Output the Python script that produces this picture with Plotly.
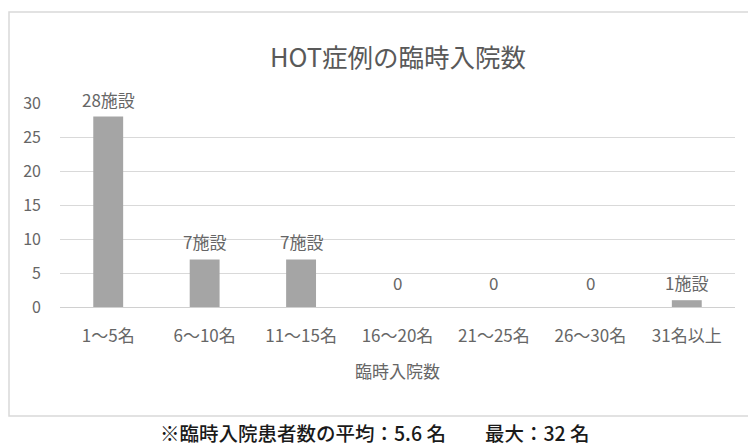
import plotly.graph_objects as go

# Temporary admissions per facility (HOT cases)
categories = ["1～5名", "6～10名", "11～15名", "16～20名", "21～25名", "26～30名", "31名以上"]
facilities = [28, 7, 7, 0, 0, 0, 1]
y_ticks = [0, 5, 10, 15, 20, 25, 30]

title_text = "HOT症例の臨時入院数"
x_title = "臨時入院数"
caption = "※臨時入院患者数の平均：5.6 名　　最大：32 名"

FONT = "Noto Sans CJK JP"
GREY_TEXT = "#595959"
TICK_TEXT = "#666666"
W, H = 748, 447
L, R, T, B = 60, 13, 103, 140

fig = go.Figure()
fig.add_trace(go.Bar(
    x=categories,
    y=facilities,
    marker=dict(color="#a5a5a5", line=dict(width=0)),
    width=0.31,
    hoverinfo="skip",
))

# value labels above each bar
for cat, v in zip(categories, facilities):
    fig.add_annotation(
        x=cat, y=v, xref="x", yref="y",
        text=f"{v}施設" if v > 0 else "0",
        showarrow=False, yanchor="bottom", yshift=3 if v > 0 else 10,
        font=dict(family=FONT, size=17, color=TICK_TEXT),
    )

plot_h = H - T - B
plot_w = W - L - R

def py(pixel_y):
    return (H - B - pixel_y) / plot_h

def px(pixel_x):
    return (pixel_x - L) / plot_w

# outer chart frame
fig.add_shape(
    type="rect", xref="paper", yref="paper",
    x0=px(9), x1=px(760), y0=py(416), y1=py(12),
    line=dict(color="#d9d9d9", width=1.5), fillcolor="rgba(0,0,0,0)", layer="below",
)

fig.add_annotation(
    x=0.5, y=py(56), xref="paper", yref="paper", text=title_text,
    showarrow=False, yanchor="middle",
    font=dict(family=FONT, size=25.5, color=GREY_TEXT),
)
fig.add_annotation(
    x=0.5, y=py(370), xref="paper", yref="paper", text=x_title,
    showarrow=False, yanchor="middle",
    font=dict(family=FONT, size=17, color=TICK_TEXT),
)
fig.add_annotation(
    x=px(375), y=py(432), xref="paper", yref="paper", text=caption,
    showarrow=False, yanchor="middle",
    font=dict(family=FONT, size=19.5, color="#1a1a1a", weight=500),
)

fig.update_layout(
    width=W, height=H,
    margin=dict(l=L, r=R, t=T, b=B),
    paper_bgcolor="white", plot_bgcolor="white",
    showlegend=False,
    font=dict(family=FONT, color=GREY_TEXT),
    xaxis=dict(
        showgrid=False, showline=False, zeroline=False, ticks="",
        tickfont=dict(family=FONT, size=17, color=TICK_TEXT),
        ticklabelstandoff=17, fixedrange=True,
    ),
    yaxis=dict(
        range=[0, 30], tickvals=y_ticks, showgrid=True, gridcolor="#d9d9d9",
        gridwidth=1, zeroline=True, zerolinecolor="#d0d0d0", zerolinewidth=1,
        showline=False, ticks="",
        tickfont=dict(family=FONT, size=16, color=TICK_TEXT),
        ticklabelstandoff=18, fixedrange=True,
    ),
)

fig.write_html("out.html")
